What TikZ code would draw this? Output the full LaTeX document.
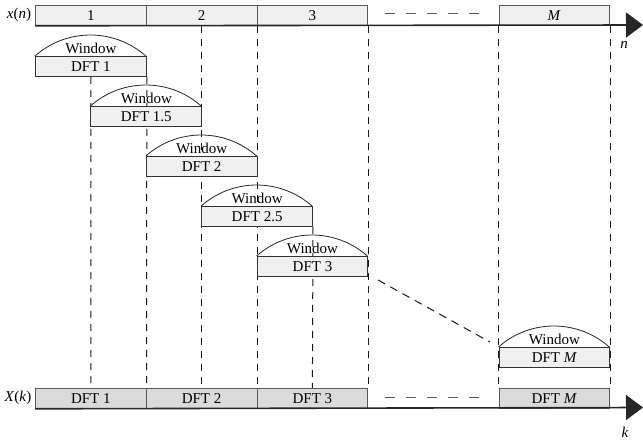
\documentclass[tikz,border=0pt]{standalone}
\usepackage{fontspec}
\setmainfont{Liberation Serif}
\usetikzlibrary{arrows.meta}
\pgfdeclarelayer{bg}
\pgfsetlayers{bg,main}
\definecolor{lightfill}{gray}{0.94}
\definecolor{darkfill}{gray}{0.86}
\definecolor{edgecol}{gray}{0.35}
\begin{document}
\begin{tikzpicture}[x=1pt,y=-1pt,
  font=\fontsize{15}{17}\selectfont,
  cell/.style={draw=edgecol, line width=0.8pt, minimum width=110.8pt, minimum height=20pt, inner sep=0pt, anchor=north west},
  topcell/.style={cell, fill=lightfill},
  botcell/.style={cell, fill=darkfill},
  dftbox/.style={cell, draw=black!80, line width=1pt, fill=lightfill},
  winarc/.style={draw=black!85, line width=0.8pt},
  wlabel/.style={inner sep=0pt},
  vdash/.style={draw=black!90, line width=1pt, dash pattern=on 7pt off 6pt},
  hdash/.style={draw=black!65, line width=1pt, dash pattern=on 10pt off 11pt},
  ddash/.style={draw=black!90, line width=1pt, dash pattern=on 8pt off 6pt},
  axisline/.style={draw=black!85, line width=1.6pt, -{Triangle[length=17pt,width=25pt]}},
  lbl/.style={inner sep=0pt}]
\useasboundingbox (0,0) rectangle (643,441);

% top bar
\node[topcell] (t1) at (35,5) {1};
\node[topcell] (t2) at (145.8,5) {2};
\node[topcell] (t3) at (256.6,5) {3};
\node[topcell] (tM) at (498.5,5) {\textit{M}};
% bottom bar
\node[botcell] (b1) at (35,388) {DFT 1};
\node[botcell] (b2) at (145.8,388) {DFT 2};
\node[botcell] (b3) at (256.6,388) {DFT 3};
\node[botcell] (bM) at (498.5,388) {DFT \textit{M}};

% axes
\coordinate (nend) at (643,25);
\coordinate (kend) at (643,407.5);
\draw[axisline] (t1.south west) -- (nend);
\draw[axisline] (b1.south west) -- (kend);

% axis labels
\node[lbl] (xn) at (19,15) {\textit{x}(\textit{n})};
\node[lbl] (Xk) at (18,398) {\textit{X}(\textit{k})};
\node[lbl] (nl) at (624,45) {\textit{n}};
\node[lbl] (kl) at (625,432) {\textit{k}};

% DFT boxes
\node[dftbox] (d1) at (35,56) {DFT 1};
\node[dftbox] (d15) at (90.4,106) {DFT 1.5};
\node[dftbox] (d2) at (145.8,156) {DFT 2};
\node[dftbox] (d25) at (201.2,206) {DFT 2.5};
\node[dftbox] (d3) at (256.6,256) {DFT 3};
\node[dftbox] (dM) at (498.5,347) {DFT \textit{M}};

% windows
\foreach \d in {d1,d15,d2,d25,d3,dM}{
  \draw[winarc] (\d.north west) arc[start angle=228.5, end angle=311.5, radius=83.6];
}
\node[wlabel] (w1) at ([yshift=7.5pt]d1.north) {Window};
\node[wlabel] (w15) at ([yshift=7.5pt]d15.north) {Window};
\node[wlabel] (w2) at ([yshift=7.5pt]d2.north) {Window};
\node[wlabel] (w25) at ([yshift=7.5pt]d25.north) {Window};
\node[wlabel] (w3) at ([yshift=7.5pt]d3.north) {Window};
\node[wlabel] (wM) at ([yshift=7.5pt]dM.north) {Window};

% dashed connectors (behind boxes)
\begin{pgfonlayer}{bg}
\draw[vdash] (d1.south) -- (b1.north);
\draw[vdash] (d1.south east) -- (b1.north east);
\draw[vdash] (t2.south) -- (b2.north);
\draw[vdash] (t2.south east) -- (b2.north east);
\draw[vdash] (d25.south east) -- (b3.north);
\draw[vdash] (t3.south east) -- (b3.north east);
\draw[vdash] (tM.south west) -- (bM.north west);
\draw[vdash] (tM.south east) -- (bM.north east);
\end{pgfonlayer}

\coordinate (ht1) at (385,14);
\coordinate (ht2) at (487,14);
\coordinate (hb1) at (385,397);
\coordinate (hb2) at (487,397);
\draw[hdash] (ht1) -- (ht2);
\draw[hdash] (hb1) -- (hb2);
\coordinate (dg1) at (378,280);
\coordinate (dg2) at (490,342);
\draw[ddash] (dg1) -- (dg2);
\end{tikzpicture}
\end{document}
